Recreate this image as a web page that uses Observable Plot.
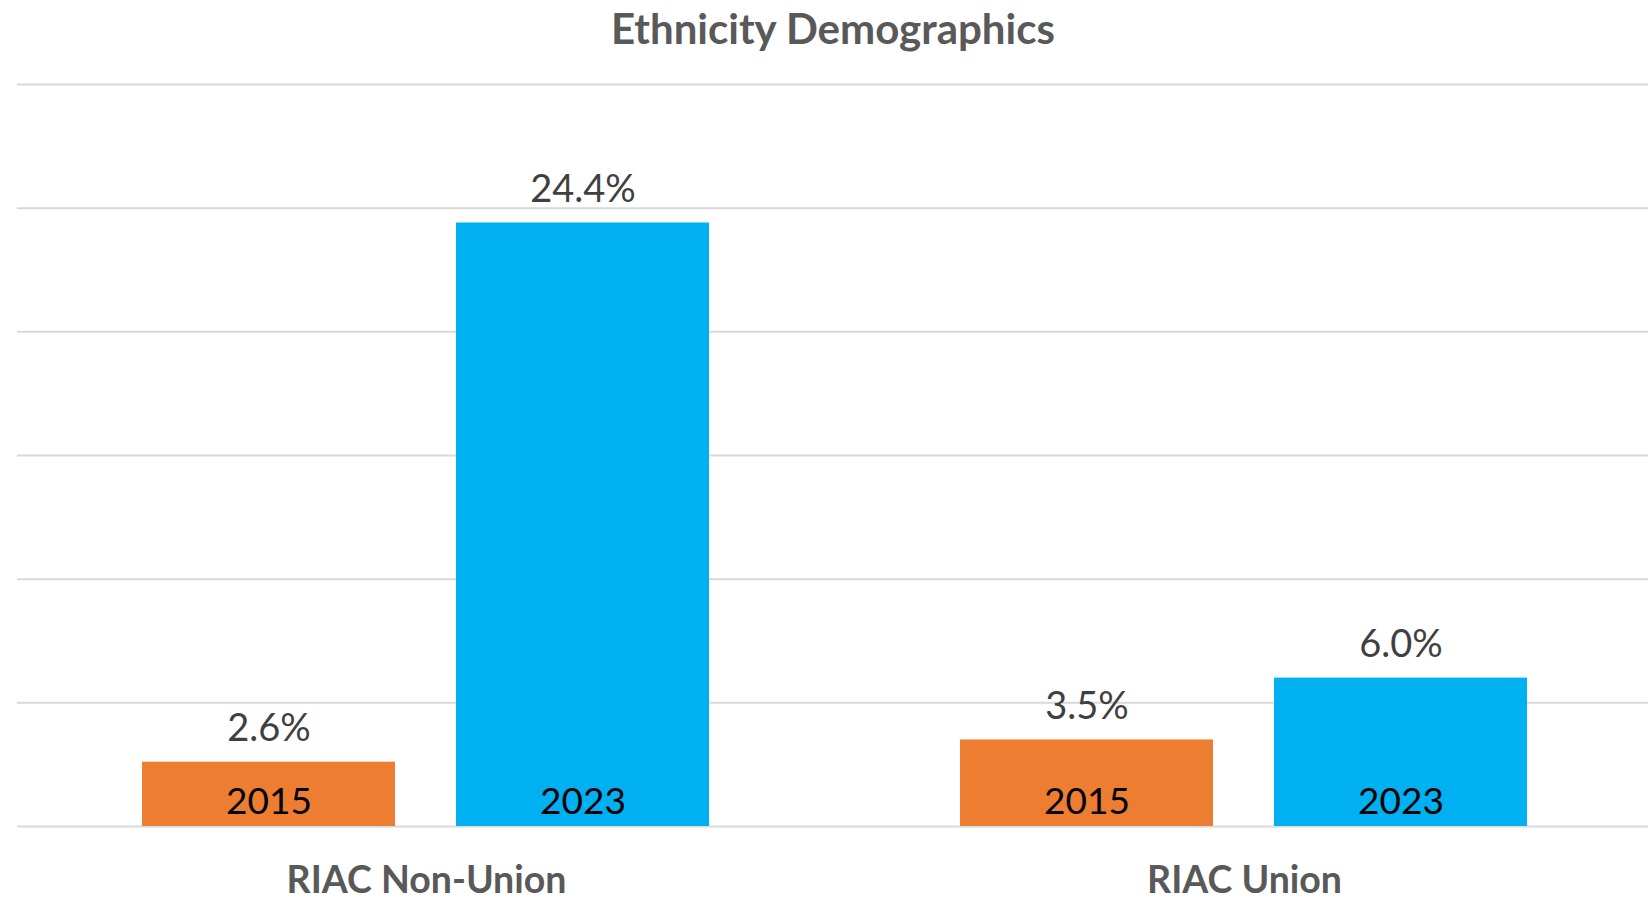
<!DOCTYPE html>
<html>
<head>
<meta charset="utf-8">
<script src="https://cdn.jsdelivr.net/npm/d3@7"></script>
<script src="https://cdn.jsdelivr.net/npm/@observablehq/plot@0.6"></script>
<style>
  html, body { margin: 0; padding: 0; background: #fff; overflow: hidden; }
  #title { height: 60px; width: 1648px; box-sizing: border-box; padding-left: 18px; text-align: center;
           font-family: Lato, "Open Sans", sans-serif; font-weight: 700; font-size: 42px; color: #595959;
           line-height: 56px; }
  svg { display: block; }
</style>
</head>
<body>
<div id="title">Ethnicity Demographics</div>
<div id="chart"></div>
<script>
const groups = ["RIAC Non-Union", "RIAC Union"];
const years = ["2015", "2023"];
const values2015 = [2.6, 3.5];
const values2023 = [24.4, 6.0];
const yTicks = [0, 5, 10, 15, 20, 25, 30];
const yearColors = ["#ED7D31", "#00B0F0"];

const data = [];
groups.forEach((g, i) => {
  data.push({group: g, year: years[0], value: values2015[i]});
  data.push({group: g, year: years[1], value: values2023[i]});
});

const font = "Lato, 'Open Sans', sans-serif";

const chart = Plot.plot({
  width: 1648,
  height: 840,
  marginTop: 24,
  marginBottom: 74,
  marginLeft: 17,
  marginRight: -5,
  style: {fontFamily: font, background: "#fff", overflow: "hidden"},
  fx: {domain: groups, padding: 0, label: null},
  x: {domain: years, paddingInner: 0.194, paddingOuter: 0.398, axis: null},
  y: {domain: [0, 30], axis: null},
  color: {domain: years, range: yearColors},
  marks: [
    Plot.ruleY(yTicks, {stroke: "#d9d9d9", strokeWidth: 2}),
    Plot.barY(data, {fx: "group", x: "year", y: "value", fill: "year"}),
    Plot.text(data, {fx: "group", x: "year", y: "value", text: d => d.value.toFixed(1) + "%",
      dy: -21, lineAnchor: "bottom", fontSize: 38, fill: "#404040"}),
    Plot.text(data, {fx: "group", x: "year", y: 0, text: "year",
      dy: -13, lineAnchor: "bottom", fontSize: 37, fill: "#000"}),
    Plot.axisFx({anchor: "bottom", tickSize: 0, tickPadding: 40, fontSize: 37.5, fontWeight: 700,
      fill: "#595959", label: null})
  ]
});
document.getElementById("chart").appendChild(chart);
</script>
</body>
</html>
